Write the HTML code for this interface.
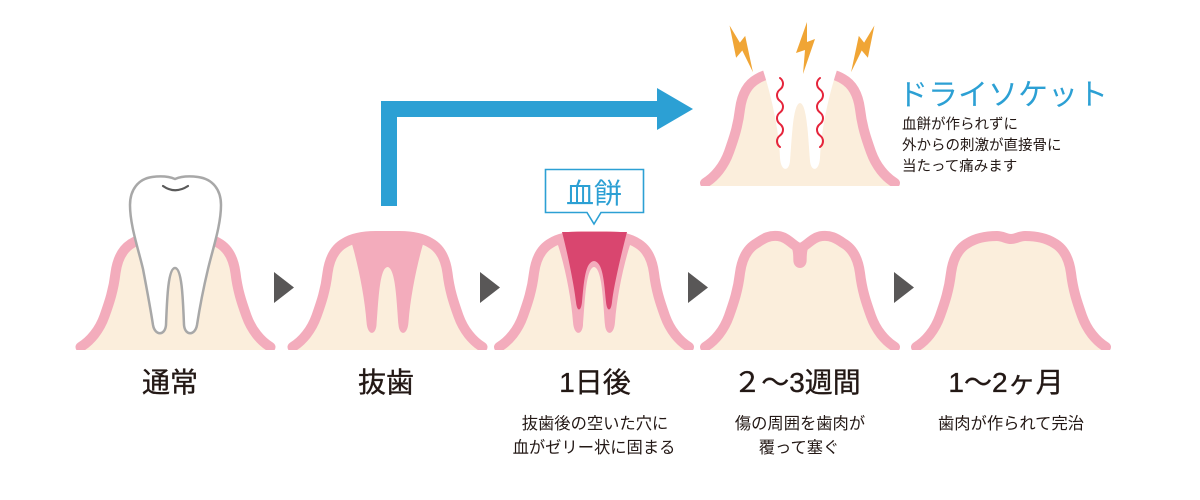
<!DOCTYPE html>
<html><head><meta charset="utf-8">
<style>
html,body{margin:0;padding:0;background:#fff;}
svg{display:block;}
text{font-family:"Liberation Sans","Noto Sans CJK JP",sans-serif;}
</style></head>
<body>
<svg width="1200" height="500" viewBox="0 0 1200 500" xmlns="http://www.w3.org/2000/svg">
<defs>
<clipPath id="cb"><rect x="-120" y="-10" width="240" height="360"/></clipPath>
</defs>
<rect width="1200" height="500" fill="#fff"/>

<!-- Gum 1 : normal -->
<g transform="translate(175.5,0)">
 <g clip-path="url(#cb)">
  <path d="M -95,347 C -85,341 -76,330 -71,316 C -66,302 -62,290 -60,273 C -58,258 -52,248 -43,243 C -35,238 -25,236 -12,236 L 12,236 C 25,236 35,238 43,243 C 52,248 58,258 60,273 C 62,290 66,302 71,316 C 76,330 85,341 95,347 L 95,352 L -95,352 Z" fill="#fbeedc"/>
  <path d="M -95,347 C -85,341 -76,330 -71,316 C -66,302 -62,290 -60,273 C -58,258 -52,248 -43,243 C -35,238 -25,236 -12,236 L 12,236 C 25,236 35,238 43,243 C 52,248 58,258 60,273 C 62,290 66,302 71,316 C 76,330 85,341 95,347" fill="none" stroke="#f3acbc" stroke-width="10" stroke-linecap="round"/>
 </g>
</g>
<!-- Tooth -->
<path d="M 175,179 C 168,176 160,176 152,177 C 138,179 130,190 130,205 C 130,225 138,248 143,269 C 147,290 151,312 153,325 C 155,336 165,336 166,325 C 167,300 168,268 175,268 C 182,268 183,300 184,325 C 185,336 195,336 197,325 C 199,312 203,290 208,269 C 213,248 221,225 221,205 C 221,190 213,179 198,177 C 190,176 182,176 175,179 Z" fill="#fff" stroke="#a8a8a8" stroke-width="2.5" stroke-linejoin="round"/>
<path d="M 163,186 Q 175,194.5 188,186" fill="none" stroke="#5a5a5a" stroke-width="2.2" stroke-linecap="round"/>

<!-- Gum 2 : extraction -->
<g transform="translate(387.5,0)">
 <g clip-path="url(#cb)">
  <path d="M -95,347 C -85,341 -76,330 -71,316 C -66,302 -62,290 -60,273 C -58,258 -52,248 -43,243 C -35,238 -25,236 -12,236 L 12,236 C 25,236 35,238 43,243 C 52,248 58,258 60,273 C 62,290 66,302 71,316 C 76,330 85,341 95,347 L 95,352 L -95,352 Z" fill="#fbeedc"/>
  <path d="M -95,347 C -85,341 -76,330 -71,316 C -66,302 -62,290 -60,273 C -58,258 -52,248 -43,243 C -35,238 -25,236 -12,236 L 12,236 C 25,236 35,238 43,243 C 52,248 58,258 60,273 C 62,290 66,302 71,316 C 76,330 85,341 95,347" fill="none" stroke="#f3acbc" stroke-width="10" stroke-linecap="round"/>
  <path d="M -37,239 L 37,239 C 30,262 23,295 21,322 C 20,336 12,336 11,325 C 9,300 8,268 0,267 C -8,268 -9,300 -11,325 C -12,336 -20,336 -21,322 C -23,295 -30,262 -37,239 Z" fill="#f3acbc"/>
 </g>
</g>

<!-- Gum 3 : 1 day -->
<g transform="translate(594,0)">
 <g clip-path="url(#cb)">
  <path d="M -95,347 C -85,341 -76,330 -71,316 C -66,302 -62,290 -60,273 C -58,258 -52,248 -43,243 C -35,238 -25,236 -12,236 L 12,236 C 25,236 35,238 43,243 C 52,248 58,258 60,273 C 62,290 66,302 71,316 C 76,330 85,341 95,347 L 95,352 L -95,352 Z" fill="#fbeedc"/>
  <path d="M -95,347 C -85,341 -76,330 -71,316 C -66,302 -62,290 -60,273 C -58,258 -52,248 -43,243 C -35,238 -25,236 -12,236 L 12,236 C 25,236 35,238 43,243 C 52,248 58,258 60,273 C 62,290 66,302 71,316 C 76,330 85,341 95,347" fill="none" stroke="#f3acbc" stroke-width="10" stroke-linecap="round"/>
  <path d="M -38,239 L 38,239 C 30,262 23,295 21,322 C 20,336 12,336 11,325 C 9,300 8,268 0,267 C -8,268 -9,300 -11,325 C -12,336 -20,336 -21,322 C -23,295 -30,262 -38,239 Z" fill="#f3acbc"/>
  <path d="M -32,232 L 33,232 C 27,255 20,285 18,302 C 17,312 13,312 12,302 C 10,282 9,262 0,261 C -9,262 -10,282 -12,302 C -13,312 -17,312 -18,302 C -20,285 -26,255 -32,232 Z" fill="#d9466f"/>
 </g>
</g>

<!-- Gum 4 : 2-3 weeks -->
<g transform="translate(800,0)">
 <g clip-path="url(#cb)">
  <path d="M -95,347 C -85,341 -76,330 -71,316 C -66,302 -62,290 -60,273 C -58,258 -52,248 -43,243 C -36,238 -30,235 -22,236 C -12,237 -6,247 0,248 C 6,247 12,237 22,236 C 30,235 36,238 43,243 C 52,248 58,258 60,273 C 62,290 66,302 71,316 C 76,330 85,341 95,347 L 95,352 L -95,352 Z" fill="#fbeedc"/>
  <path d="M -95,347 C -85,341 -76,330 -71,316 C -66,302 -62,290 -60,273 C -58,258 -52,248 -43,243 C -36,238 -30,235 -22,236 C -12,237 -6,247 0,248 C 6,247 12,237 22,236 C 30,235 36,238 43,243 C 52,248 58,258 60,273 C 62,290 66,302 71,316 C 76,330 85,341 95,347" fill="none" stroke="#f3acbc" stroke-width="10" stroke-linecap="round" stroke-linejoin="round"/>
  <path d="M -9,246 C -6,252 -7,259 -6.5,262 C -5,270 5,270 6.5,262 C 7,259 6,252 9,246 Z" fill="#f3acbc"/>
 </g>
</g>

<!-- Gum 5 : 1-2 months -->
<g transform="translate(1011,0)">
 <g clip-path="url(#cb)">
  <path d="M -95,347 C -85,341 -76,330 -71,316 C -66,302 -62,290 -60,273 C -58,258 -52,248 -43,243 C -35,238 -25,236 -14,236 C -8,236 -5,239 0,239 C 5,239 8,236 14,236 C 25,236 35,238 43,243 C 52,248 58,258 60,273 C 62,290 66,302 71,316 C 76,330 85,341 95,347 L 95,352 L -95,352 Z" fill="#fbeedc"/>
  <path d="M -95,347 C -85,341 -76,330 -71,316 C -66,302 -62,290 -60,273 C -58,258 -52,248 -43,243 C -35,238 -25,236 -14,236 C -8,236 -5,239 0,239 C 5,239 8,236 14,236 C 25,236 35,238 43,243 C 52,248 58,258 60,273 C 62,290 66,302 71,316 C 76,330 85,341 95,347" fill="none" stroke="#f3acbc" stroke-width="10" stroke-linecap="round"/>
 </g>
</g>

<!-- Dry socket -->
<g transform="translate(800,-164)">
 <g clip-path="url(#cb)">
  <path d="M -95,347 C -85,341 -76,330 -71,316 C -66,302 -62,290 -60,273 C -58,258 -52,248 -43,243 C -35,238 -25,236 -12,236 L 12,236 C 25,236 35,238 43,243 C 52,248 58,258 60,273 C 62,290 66,302 71,316 C 76,330 85,341 95,347 L 95,352 L -95,352 Z" fill="#fbeedc"/>
  <path d="M -95,347 C -85,341 -76,330 -71,316 C -66,302 -62,290 -60,273 C -58,258 -52,248 -43,243 C -35,238 -25,236 -12,236 L 12,236 C 25,236 35,238 43,243 C 52,248 58,258 60,273 C 62,290 66,302 71,316 C 76,330 85,341 95,347" fill="none" stroke="#f3acbc" stroke-width="10" stroke-linecap="round"/>
  <path d="M -44,215 L 44,215 L 37,234 C 28,262 21,295 20,322 C 19,336 11,336 10,325 C 8,300 7,268 0,267 C -7,268 -8,300 -10,325 C -11,336 -19,336 -20,322 C -21,295 -28,262 -37,234 L -44,215 Z" fill="#fff"/>
 </g>
</g>
<!-- red waves -->
<path d="M 780,78 c 4,3 4,8.5 0,11.5 c -4,3 -4,8.5 0,11.5 c 4,3 4,8.5 0,11.5 c -4,3 -4,8.5 0,11.5 c 4,3 4,8.5 0,11.5 c -4,3 -4,8.5 0,11.5" fill="none" stroke="#e5243b" stroke-width="2" stroke-linecap="round"/>
<path d="M 820,78 c -4,3 -4,8.5 0,11.5 c 4,3 4,8.5 0,11.5 c -4,3 -4,8.5 0,11.5 c 4,3 4,8.5 0,11.5 c -4,3 -4,8.5 0,11.5 c 4,3 4,8.5 0,11.5" fill="none" stroke="#e5243b" stroke-width="2" stroke-linecap="round"/>
<!-- lightning -->
<polygon points="3,0 -8,31 1,28 -1,52 11,17 3,20" fill="#f0a535" transform="translate(727,27) rotate(-31)"/>
<polygon points="3,0 -8,31 1,28 -1,52 11,17 3,20" fill="#f0a535" transform="translate(804,22)"/>
<polygon points="3,0 -8,31 1,28 -1,52 11,17 3,20" fill="#f0a535" transform="translate(877,27) rotate(31) scale(-1,1)"/>

<!-- blue arrow -->
<path d="M 381,206 L 381,101 L 657,101 L 657,88 L 693,109 L 657,130 L 657,117 L 397,117 L 397,206 Z" fill="#2ca0d4"/>

<!-- callout -->
<path d="M 545.5,169.5 L 643.5,169.5 L 643.5,212.5 L 601,212.5 L 594,224 L 587,212.5 L 545.5,212.5 Z" fill="#fff" stroke="#2ca0d4" stroke-width="1.6" stroke-linejoin="miter"/>
<text x="594" y="203" font-size="28" fill="#2ca0d4" text-anchor="middle">血餅</text>

<!-- gray triangles -->
<polygon points="274,272 294,287.5 274,303" fill="#595757"/>
<polygon points="480,272 500,287.5 480,303" fill="#595757"/>
<polygon points="688,272 708,287.5 688,303" fill="#595757"/>
<polygon points="894,272 914,287.5 894,303" fill="#595757"/>

<!-- dry socket text -->
<text x="898" y="105" font-size="30" fill="#2ca0d4">ドライソケット</text>
<text x="902" y="129" font-size="14.5" fill="#231815">血餅が作られずに</text>
<text x="902" y="150" font-size="14.5" fill="#231815">外からの刺激が直接骨に</text>
<text x="902" y="171" font-size="14.5" fill="#231815">当たって痛みます</text>

<!-- titles -->
<g font-size="28" fill="#231815" text-anchor="middle" stroke="#231815" stroke-width="0.35">
<text x="170" y="392">通常</text>
<text x="386" y="392">抜歯</text>
<text x="595" y="392">1日後</text>
<text x="797" y="392">２～3週間</text>
<text x="1006" y="392">1～2ヶ月</text>
</g>
<!-- descriptions -->
<g font-size="16.3" fill="#231815" text-anchor="middle">
<text x="595" y="429">抜歯後の空いた穴に</text>
<text x="594" y="453">血がゼリー状に固まる</text>
<text x="800" y="429">傷の周囲を歯肉が</text>
<text x="799" y="453">覆って塞ぐ</text>
<text x="1011" y="429">歯肉が作られて完治</text>
</g>
</svg>
</body></html>
